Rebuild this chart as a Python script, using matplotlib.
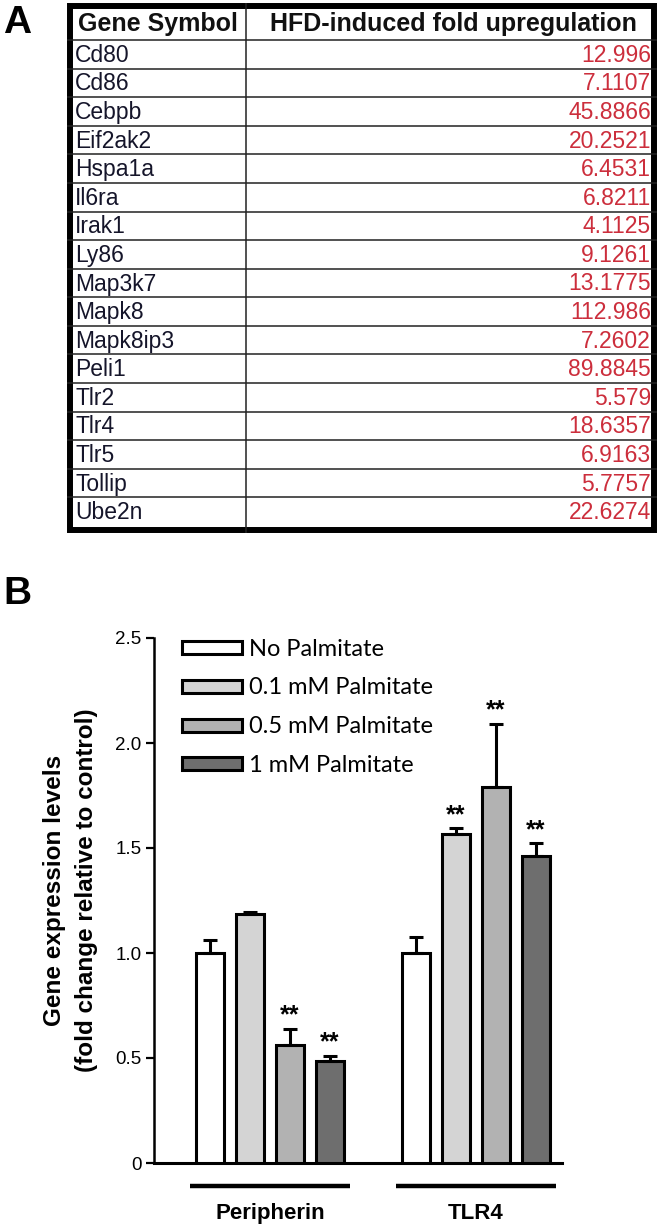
import numpy as np
import matplotlib.pyplot as plt
from matplotlib.patches import Rectangle

# panel A data
genes = ["Cd80", "Cd86", "Cebpb", "Eif2ak2", "Hspa1a", "Il6ra", "Irak1", "Ly86",
         "Map3k7", "Mapk8", "Mapk8ip3", "Peli1", "Tlr2", "Tlr4", "Tlr5", "Tollip", "Ube2n"]
fold_up = [12.996, 7.1107, 45.8866, 20.2521, 6.4531, 6.8211, 4.1125, 9.1261,
           13.1775, 112.986, 7.2602, 89.8845, 5.579, 18.6357, 6.9163, 5.7757, 22.6274]

# panel B data
targets = ["Peripherin", "TLR4"]
conditions = ["No Palmitate", "0.1 mM Palmitate", "0.5 mM Palmitate", "1 mM Palmitate"]
expr = {
    "Peripherin": [1.0, 1.186, 0.562, 0.487],
    "TLR4": [1.0, 1.565, 1.789, 1.462],
}
expr_err = {
    "Peripherin": [0.062, 0.011, 0.076, 0.023],
    "TLR4": [0.076, 0.029, 0.301, 0.060],
}
signif = {
    "Peripherin": [False, False, True, True],
    "TLR4": [False, True, True, True],
}
bar_colors = ["#ffffff", "#d4d4d4", "#b2b2b2", "#6e6e6e"]

W, H = 664, 1229
fig = plt.figure(figsize=(W / 100, H / 100), dpi=100)
plt.rcParams['font.family'] = ['Liberation Sans', 'DejaVu Sans']

# ---- panel A: table ----
tx0, tx1, ty0, ty1 = 67, 657, 3, 533
tab = fig.add_axes([tx0 / W, 1 - ty1 / H, (tx1 - tx0) / W, (ty1 - ty0) / H])
tw, th = tx1 - tx0, ty1 - ty0
tab.set_xlim(0, tw)
tab.set_ylim(th, 0)
tab.axis("off")

head_h = 37
row_h = (th - 7 - head_h) / len(genes)
col_x = 179
# cell lines
for k in range(len(genes)):
    yy = head_h + k * row_h
    tab.plot([0, tw], [yy, yy], color="#222222", lw=1.1)
tab.plot([col_x, col_x], [0, th], color="#222222", lw=1.1)
tab.add_patch(Rectangle((3, 3), tw - 6, th - 6, fill=False, ec="black", lw=4.3))

tab.text(11, (head_h + 6) / 2, "Gene Symbol", fontsize=18, fontweight="bold",
         ha="left", va="center", color="#111111")
tab.text((col_x + tw) / 2 + 2, (head_h + 6) / 2, "HFD-induced fold upregulation",
         fontsize=18, fontweight="bold", ha="center", va="center", color="#111111")
for k, (g, v) in enumerate(zip(genes, fold_up)):
    yc = head_h + (k + 0.5) * row_h + 1
    tab.text(8, yc, g, fontsize=16.5, ha="left", va="center", color="#15152a")
    tab.text(tw - 6, yc, str(v), fontsize=16.5, ha="right", va="center", color="#cc2e3c")

fig.text(17 / W, 1 - 23 / H, "A", fontsize=28, fontweight="bold", ha="center", va="center")
fig.text(17 / W, 1 - 594 / H, "B", fontsize=28, fontweight="bold", ha="center", va="center")

# ---- panel B: bars ----
ax_l, ax_r, ax_t, ax_b = 154, 562, 638, 1163
ax = fig.add_axes([ax_l / W, 1 - ax_b / H, (ax_r - ax_l) / W, (ax_b - ax_t) / H])
group_gap = 5.15
bar_w = 0.68
handles = []
for gi, t in enumerate(targets):
    xs = gi * group_gap + np.arange(len(conditions))
    vals = expr[t]
    errs = expr_err[t]
    bars = ax.bar(xs, vals, width=bar_w, color=bar_colors, edgecolor="black", linewidth=2.2,
                  yerr=[np.zeros(len(errs)), errs], capsize=4.8,
                  error_kw=dict(elinewidth=2.2, capthick=2.2, ecolor="black"), zorder=3)
    if gi == 0:
        handles = list(bars)
    for x, v, e, s in zip(xs, vals, errs, signif[t]):
        if s:
            ax.annotate("**", (x, v + e), xytext=(0, 1), textcoords="offset points",
                        ha="center", va="bottom", fontsize=18, fontweight="bold")
    # group underline and label
    ax.plot([xs[0] - 0.5, xs[-1] + 0.5], [-0.108, -0.108], color="black", lw=3.2,
            clip_on=False, solid_capstyle="butt")
    ax.text(xs.mean(), -0.24, t, ha="center", va="center", fontsize=16, fontweight="bold")

ax.set_xlim(-1.4, 8.8)
ax.set_ylim(0, 2.5)
ax.set_yticks([0, 0.5, 1.0, 1.5, 2.0, 2.5])
ax.set_yticklabels(["0", "0.5", "1.0", "1.5", "2.0", "2.5"])
ax.tick_params(axis="y", length=6, width=1.6, labelsize=13.5, pad=3)
ax.tick_params(axis="x", length=0, labelbottom=False)
for sp in ["top", "right"]:
    ax.spines[sp].set_visible(False)
ax.spines["left"].set_linewidth(1.8)
ax.spines["bottom"].set_linewidth(2.2)

fig.text(55 / W, 1 - 890 / H, "Gene expression levels", rotation=90, fontsize=17.5,
         fontweight="bold", ha="center", va="center")
fig.text(87 / W, 1 - 890 / H, "(fold change relative to control)", rotation=90,
         fontsize=17.5, fontweight="bold", ha="center", va="center")

leg = ax.legend(handles, conditions, loc="upper left", bbox_to_anchor=(0.068, 0.999),
                frameon=False, handlelength=2.55, handleheight=0.47, handletextpad=0.3,
                labelspacing=0.76, borderpad=0, borderaxespad=0,
                prop={"family": "Lato", "size": 17})

fig.savefig("out.png", dpi=100)
